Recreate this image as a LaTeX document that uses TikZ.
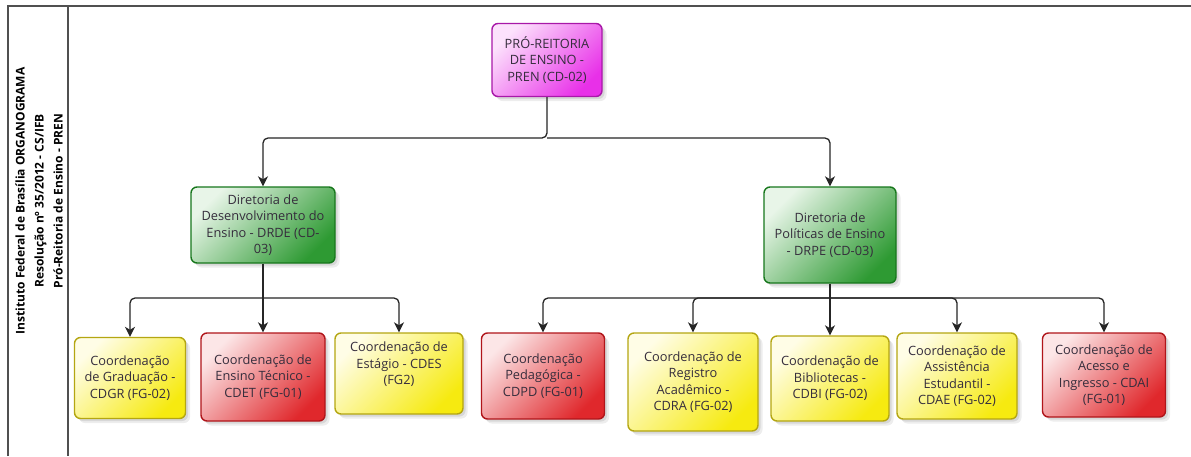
\documentclass[tikz,border=0pt]{standalone}
\usepackage{fontspec}
\setmainfont{Open Sans}
\usetikzlibrary{arrows.meta,shadows}

\definecolor{txt}{HTML}{352D3C}
\definecolor{frame}{HTML}{505050}
\definecolor{yedge}{HTML}{B4A612}
\definecolor{ydark}{HTML}{F6EA10}
\definecolor{ylight}{HTML}{FFFDE6}
\definecolor{redge}{HTML}{B0151A}
\definecolor{rdark}{HTML}{E0282C}
\definecolor{rlight}{HTML}{FCE6E7}
\definecolor{gedge}{HTML}{17771C}
\definecolor{gdark}{HTML}{2E9A33}
\definecolor{glight}{HTML}{E8F5E8}
\definecolor{medge}{HTML}{A818A8}
\definecolor{mdark}{HTML}{E830E8}
\definecolor{mlight}{HTML}{FCE2FC}

\tikzset{
  orgbox/.style={draw, rounded corners=6pt, line width=1.4pt, align=center,
    inner sep=1pt, text=txt, font=\fontsize{12.8}{16.5}\selectfont,
    drop shadow={shadow xshift=4.5pt, shadow yshift=-4.5pt, opacity=0.07, fill=black},
    drop shadow={shadow xshift=2.5pt, shadow yshift=-2.5pt, opacity=0.09, fill=black}},
  ybox/.style={orgbox, draw=yedge, top color=ylight, middle color=ydark!30!ylight,
    bottom color=ydark, shading angle=45},
  rbox/.style={orgbox, draw=redge, top color=rlight, middle color=rdark!30!rlight,
    bottom color=rdark, shading angle=45},
  gbox/.style={orgbox, draw=gedge, top color=glight, middle color=gdark!30!glight,
    bottom color=gdark, shading angle=45},
  mbox/.style={orgbox, draw=medge, top color=mlight, middle color=mdark!30!mlight,
    bottom color=mdark, shading angle=45},
  conn/.style={draw=black!85, line width=1.3pt, rounded corners=5pt,
    -{Stealth[length=10pt, width=10pt, inset=3pt]}},
  frameline/.style={draw=frame, line width=1.6pt},
  title/.style={rotate=90, align=center, text=black, font=\bfseries\fontsize{12}{19}\selectfont}
}

\begin{document}
\begin{tikzpicture}[x=1pt, y=-1pt]
\useasboundingbox (0,0) rectangle (1191,456);
\fill[white] (0,0) rectangle (1191,456);

% frame
\draw[frameline] (8,456) -- (8,6) -- (1191,6);
\draw[frameline] (68,6) -- (68,456);
\node[title] (heading) at (39,201) {Instituto Federal de Brasília ORGANOGRAMA\\
  Resolução nº 35/2012 - CS/IFB\\Pró-Reitoria de Ensino - PREN};

% top level
\node[mbox, minimum width=110pt, minimum height=73pt] (pren) at (547,60)
  {PRÓ-REITORIA\\DE ENSINO -\\PREN (CD-02)};

% directorates
\node[gbox, minimum width=144pt, minimum height=76pt] (drde) at (263,225)
  {Diretoria de\\Desenvolvimento do\\Ensino - DRDE (CD-\\03)};
\node[gbox, minimum width=132pt, minimum height=96pt] (drpe) at (830,235)
  {Diretoria de\\Políticas de Ensino\\- DRPE (CD-03)};

% coordinations under DRDE
\node[ybox, minimum width=111pt, minimum height=81pt] (cdgr) at (130,378)
  {Coordenação\\de Graduação -\\CDGR (FG-02)};
\node[rbox, minimum width=124pt, minimum height=88pt] (cdet) at (263,377)
  {Coordenação de\\Ensino Técnico -\\CDET (FG-01)};
\node[ybox, minimum width=128pt, minimum height=81pt] (cdes) at (399,373.5)
  {Coordenação de\\Estágio - CDES\\(FG2)\\[4pt]};

% coordinations under DRPE
\node[rbox, minimum width=123pt, minimum height=86pt] (cdpd) at (543,376)
  {Coordenação\\Pedagógica -\\CDPD (FG-01)};
\node[ybox, minimum width=130pt, minimum height=98pt] (cdra) at (693,382)
  {Coordenação de\\Registro\\Acadêmico -\\CDRA (FG-02)};
\node[ybox, minimum width=118pt, minimum height=85pt] (cdbi) at (830,378.5)
  {Coordenação de\\Bibliotecas -\\CDBI (FG-02)};
\node[ybox, minimum width=120pt, minimum height=86pt] (cdae) at (957,376)
  {Coordenação de\\Assistência\\Estudantil -\\CDAE (FG-02)};
\node[rbox, minimum width=123pt, minimum height=84pt] (cdai) at (1104,375)
  {Coordenação de\\Acesso e\\Ingresso - CDAI\\(FG-01)};

% bus levels
\coordinate (busA) at (547,138);
\coordinate (busB) at (263,298);
\coordinate (busC) at (830,298);

% connectors
\draw[conn] (pren.south) -- (pren.south |- busA) -| (drde.north);
\draw[conn] (pren.south |- busA) -| (drpe.north);

\draw[conn] (drde.south) -- (cdet.north);
\draw[conn] (drde.south |- busB) -| (cdgr.north);
\draw[conn] (drde.south |- busB) -| (cdes.north);

\draw[conn] (drpe.south) -- (cdbi.north);
\draw[conn] (drpe.south |- busC) -| (cdpd.north);
\draw[conn] (drpe.south |- busC) -| (cdra.north);
\draw[conn] (drpe.south |- busC) -| (cdae.north);
\draw[conn] (drpe.south |- busC) -| (cdai.north);
\end{tikzpicture}
\end{document}
